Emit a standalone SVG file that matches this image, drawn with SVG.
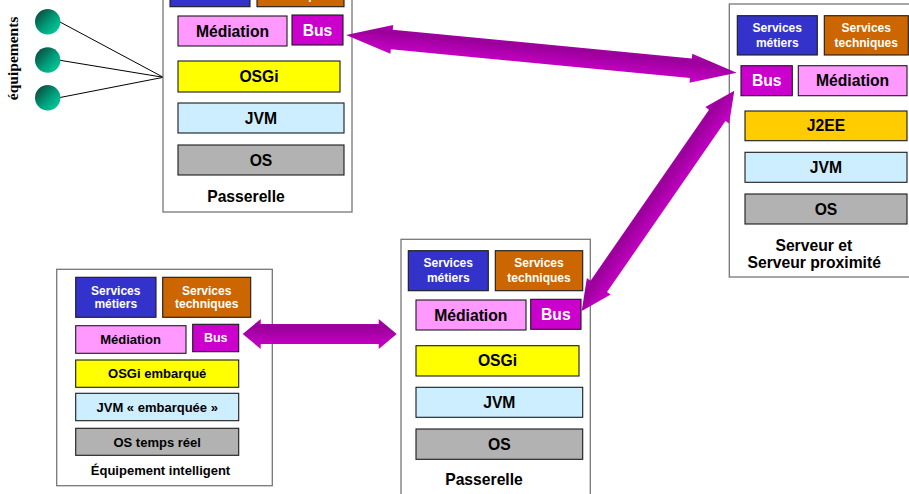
<svg xmlns="http://www.w3.org/2000/svg" width="909" height="494" viewBox="0 0 909 494">
<defs>
<linearGradient id="ball" x1="0.15" y1="0.15" x2="0.9" y2="0.9">
<stop offset="0" stop-color="#0a5544"/>
<stop offset="0.55" stop-color="#00a07c"/>
<stop offset="1" stop-color="#00cc99"/>
</linearGradient>
<linearGradient id="arr" x1="0" y1="0" x2="0" y2="1">
<stop offset="0" stop-color="#b800b8"/>
<stop offset="0.25" stop-color="#990099"/>
<stop offset="1" stop-color="#cc00cc"/>
</linearGradient>
<style>
.outer{fill:#ffffff;stroke:#777777;stroke-width:1.3}
.box{stroke:#1a1a1a;stroke-width:1.1}
.sm{fill:#3333cc}
.st{fill:#cc6600}
.med{fill:#ff99ff}
.bus{fill:#cc00cc}
.osgi{fill:#ffff00}
.jvm{fill:#cceeff}
.os{fill:#b2b2b2}
.j2ee{fill:#ffcc00}
text{font-family:"Liberation Sans",Arial,sans-serif;font-weight:bold;text-anchor:middle}
.big{font-size:15.7px;fill:#000}
.bigw{font-size:15.7px;fill:#fff}
.sv{font-size:12px;fill:#fff}
.mid{font-size:13px;fill:#000}
.midw{font-size:12.5px;fill:#fff}
.arrow{fill:url(#arr)}
.wire{stroke:#000;stroke-width:1;fill:none}
</style>
</defs>

<g id="equipements">
<line class="wire" x1="60" y1="22" x2="163.3" y2="77.3"/>
<line class="wire" x1="60" y1="60.3" x2="163.3" y2="77.3"/>
<line class="wire" x1="60" y1="97.5" x2="163.3" y2="77.3"/>
<circle cx="47.7" cy="21.7" r="12.7" fill="url(#ball)"/>
<circle cx="47.7" cy="60" r="12.7" fill="url(#ball)"/>
<circle cx="47.7" cy="97.7" r="12.7" fill="url(#ball)"/>
<text x="18.5" y="58.4" transform="rotate(-90 18.5 58.4)" style="font-family:'Liberation Serif','Times New Roman',serif;font-size:15.5px;fill:#000">équipements</text>
</g>

<g id="passerelle-haut">
<rect class="outer" x="163" y="-20" width="189" height="232"/>
<rect class="box sm" x="170" y="-33.3" width="80" height="40"/>
<text class="sv" x="210" y="-16">Services</text>
<text class="sv" x="210" y="-1.5">métiers</text>
<rect class="box st" x="257" y="-33.3" width="87" height="40"/>
<text class="sv" x="300.5" y="-16">Services</text>
<text class="sv" x="300.5" y="-1.5">techniques</text>
<rect class="box med" x="178" y="16" width="109" height="30"/>
<text class="big" x="232.5" y="36.6">Médiation</text>
<rect class="box bus" x="292" y="15" width="51" height="30"/>
<text class="bigw" x="317.5" y="35.6">Bus</text>
<rect class="box osgi" x="178" y="61" width="162" height="31"/>
<text class="big" x="259" y="82.1">OSGi</text>
<rect class="box jvm" x="178" y="103" width="166" height="30"/>
<text class="big" x="261" y="123.6">JVM</text>
<rect class="box os" x="178" y="145" width="166" height="30"/>
<text class="big" x="261" y="165.6">OS</text>
<text class="big" x="246" y="202">Passerelle</text>
</g>

<g id="serveur">
<rect class="outer" x="729.3" y="4" width="200" height="273"/>
<rect class="box sm" x="737.3" y="15.7" width="80" height="39.3"/>
<text class="sv" x="777.3" y="32.3">Services</text>
<text class="sv" x="777.3" y="46.7">métiers</text>
<rect class="box st" x="824.3" y="15.7" width="84" height="39.3"/>
<text class="sv" x="866.3" y="32.3">Services</text>
<text class="sv" x="866.3" y="46.7">techniques</text>
<rect class="box bus" x="741" y="65.7" width="51.3" height="30"/>
<text class="bigw" x="766.7" y="86.3">Bus</text>
<rect class="box med" x="798.3" y="65.7" width="108.7" height="30"/>
<text class="big" x="852.6" y="86.3">Médiation</text>
<rect class="box j2ee" x="745" y="111" width="162" height="29.7"/>
<text class="big" x="826" y="131.4">J2EE</text>
<rect class="box jvm" x="745" y="152.3" width="162" height="30"/>
<text class="big" x="826" y="173">JVM</text>
<rect class="box os" x="745" y="194" width="162" height="30"/>
<text class="big" x="826" y="214.6">OS</text>
<text class="big" x="813.8" y="250.7">Serveur et</text>
<text class="big" x="814.2" y="267.7">Serveur proximité</text>
</g>

<g id="equipement-intelligent">
<rect class="outer" x="56.7" y="269.3" width="215.6" height="216.4"/>
<rect class="box sm" x="75.7" y="277.3" width="80.3" height="40"/>
<text class="sv" x="115.8" y="295">Services</text>
<text class="sv" x="115.8" y="308.3">métiers</text>
<rect class="box st" x="162.7" y="277.3" width="88" height="40"/>
<text class="sv" x="206.7" y="295">Services</text>
<text class="sv" x="206.7" y="308.3">techniques</text>
<rect class="box med" x="75.7" y="325.7" width="110.3" height="27.6"/>
<text class="mid" x="130.5" y="344.2">Médiation</text>
<rect class="box bus" x="192.7" y="324.3" width="46" height="27.4"/>
<text class="midw" x="215.7" y="342.4">Bus</text>
<rect class="box osgi" x="75.7" y="360" width="163" height="27.3"/>
<text class="mid" x="157.2" y="378.4">OSGi embarqué</text>
<rect class="box jvm" x="75.7" y="393.3" width="163" height="27.4"/>
<text class="mid" x="157.2" y="411.7">JVM « embarquée »</text>
<rect class="box os" x="75.7" y="428.3" width="163" height="27"/>
<text class="mid" x="157.2" y="446.5">OS temps réel</text>
<text class="mid" x="160.5" y="475">Équipement intelligent</text>
</g>

<g id="passerelle-bas">
<rect class="outer" x="401" y="239.3" width="189.3" height="270"/>
<rect class="box sm" x="408.3" y="250.7" width="80" height="40"/>
<text class="sv" x="448.3" y="267.3">Services</text>
<text class="sv" x="448.3" y="281.7">métiers</text>
<rect class="box st" x="495.3" y="250.7" width="87.4" height="40"/>
<text class="sv" x="539" y="267.3">Services</text>
<text class="sv" x="539" y="281.7">techniques</text>
<rect class="box med" x="416" y="300" width="110" height="30"/>
<text class="big" x="470.8" y="320.6">Médiation</text>
<rect class="box bus" x="530.7" y="299.3" width="50.3" height="30"/>
<text class="bigw" x="555.8" y="320">Bus</text>
<rect class="box osgi" x="416" y="345.7" width="163" height="30.3"/>
<text class="big" x="497.5" y="366.4">OSGi</text>
<rect class="box jvm" x="416" y="387.3" width="166.7" height="30"/>
<text class="big" x="499.3" y="408">JVM</text>
<rect class="box os" x="416" y="429" width="166.7" height="30.3"/>
<text class="big" x="499.3" y="449.8">OS</text>
<text class="big" x="484" y="485">Passerelle</text>
</g>

<g id="connecteurs">
<polygon class="arrow" transform="translate(346 35) rotate(5.51)" points="0,0 46,-14.5 46,-9.8 346.5,-9.8 346.5,-14.5 392.5,0 346.5,14.5 346.5,9.8 46,9.8 46,14.5"/>
<polygon class="arrow" transform="translate(581.7 311) rotate(-55.29)" points="0,0 30,-14.5 30,-10 238,-10 238,-14.5 268,0 238,14.5 238,10 30,10 30,14.5"/>
<polygon class="arrow" transform="translate(242.7 334)" points="0,0 18,-15 18,-10 136,-10 136,-15 154,0 136,15 136,10 18,10 18,15"/>
</g>
</svg>
